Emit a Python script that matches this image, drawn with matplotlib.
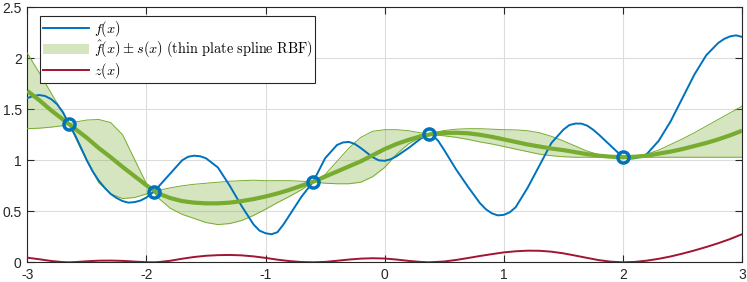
import matplotlib
matplotlib.use("Agg")
import matplotlib.pyplot as plt
from matplotlib.patches import Patch
from matplotlib.lines import Line2D

# values
f_x = [-3.0, -2.95, -2.9, -2.85, -2.8, -2.75, -2.7, -2.65, -2.6, -2.5, -2.45, -2.4, -2.35,
       -2.3, -2.25, -2.2, -2.15, -2.1, -2.05, -2.0, -1.94,
       -1.9, -1.8, -1.7, -1.65, -1.6, -1.55, -1.5, -1.4, -1.3, -1.2, -1.1, -1.05, -1.0, -0.95,
       -0.9, -0.85, -0.8, -0.7, -0.6, -0.5, -0.4, -0.35, -0.3, -0.25, -0.2, -0.1, -0.05, 0.0,
       0.05, 0.1, 0.2, 0.3, 0.37, 0.4, 0.45, 0.5, 0.6, 0.7, 0.8, 0.85, 0.9, 0.95, 1.0, 1.05,
       1.1, 1.2, 1.3, 1.4, 1.5, 1.55, 1.6, 1.65, 1.7, 1.75, 1.8, 1.9, 2.0, 2.05, 2.1, 2.15,
       2.2, 2.3, 2.4, 2.5, 2.6, 2.7, 2.8, 2.85, 2.9, 2.95, 3.0]
f_y = [1.61, 1.63, 1.64, 1.63, 1.60, 1.55, 1.47, 1.355, 1.25, 1.00, 0.89, 0.80, 0.73,
       0.67, 0.63, 0.60, 0.585, 0.59, 0.605, 0.635, 0.69,
       0.74, 0.87, 1.00, 1.035, 1.045, 1.04, 1.02, 0.93, 0.75, 0.55, 0.37, 0.31, 0.285, 0.275,
       0.295, 0.37, 0.46, 0.64, 0.79, 1.02, 1.15, 1.175, 1.18, 1.16, 1.12, 1.03, 1.0, 0.995,
       1.01, 1.04, 1.12, 1.21, 1.255, 1.25, 1.19, 1.10, 0.91, 0.74, 0.58, 0.52, 0.48, 0.46, 0.465, 0.49,
       0.54, 0.73, 0.95, 1.17, 1.30, 1.345, 1.36, 1.36, 1.34, 1.30, 1.25, 1.14, 1.03, 1.015, 1.02, 1.035,
       1.06, 1.19, 1.38, 1.61, 1.84, 2.03, 2.15, 2.19, 2.215, 2.225, 2.21]

fhat_x = [-3.0, -2.9, -2.8, -2.7, -2.6, -2.5, -2.4, -2.3, -2.2, -2.1, -2.0, -1.9, -1.8,
          -1.7, -1.6, -1.5, -1.4, -1.3, -1.2, -1.1, -1.0, -0.9, -0.8, -0.7, -0.6, -0.5,
          -0.4, -0.3, -0.2, -0.1, 0.0, 0.1, 0.2, 0.3, 0.4, 0.5, 0.6, 0.7, 0.8, 0.9, 1.0,
          1.1, 1.2, 1.3, 1.4, 1.5, 1.6, 1.7, 1.8, 1.9, 2.0, 2.1, 2.2, 2.3, 2.4, 2.5, 2.6,
          2.7, 2.8, 2.9, 3.0]
fhat_y = [1.68, 1.59, 1.49, 1.40, 1.31, 1.22, 1.12, 1.03, 0.935, 0.845, 0.755, 0.675, 0.63,
          0.60, 0.585, 0.578, 0.578, 0.585, 0.60, 0.62, 0.645, 0.675, 0.71, 0.75, 0.79, 0.84,
          0.89, 0.94, 0.99, 1.05, 1.11, 1.16, 1.20, 1.235, 1.258, 1.268, 1.27, 1.265, 1.25, 1.23, 1.205,
          1.18, 1.155, 1.135, 1.115, 1.10, 1.08, 1.06, 1.045, 1.035, 1.03, 1.035, 1.045, 1.065, 1.085, 1.11, 1.14,
          1.17, 1.205, 1.245, 1.29]

band_x = [-3.0, -2.9, -2.8, -2.7, -2.65, -2.6, -2.5, -2.4, -2.3, -2.2, -2.1, -2.0, -1.94,
          -1.9, -1.8, -1.7, -1.6, -1.5, -1.4, -1.3, -1.2, -1.1, -1.0, -0.9, -0.8, -0.7,
          -0.6, -0.5, -0.4, -0.3, -0.2, -0.1, 0.0, 0.1, 0.2, 0.3, 0.37, 0.4, 0.5, 0.6,
          0.7, 0.8, 0.9, 1.0, 1.1, 1.2, 1.3, 1.4, 1.5, 1.6, 1.7, 1.8, 1.9, 2.0, 2.1, 2.2,
          2.3, 2.4, 2.5, 2.6, 2.7, 2.8, 2.9, 3.0]
band_upper = [2.05, 1.86, 1.66, 1.46, 1.355, 1.375, 1.395, 1.40, 1.37, 1.25, 1.01, 0.77, 0.69,
              0.705, 0.73, 0.75, 0.765, 0.775, 0.785, 0.795, 0.80, 0.805, 0.80, 0.80, 0.80, 0.795,
              0.79, 0.86, 0.99, 1.12, 1.225, 1.285, 1.30, 1.30, 1.29, 1.27, 1.255, 1.268, 1.292, 1.305,
              1.31, 1.31, 1.305, 1.30, 1.298, 1.29, 1.27, 1.235, 1.19, 1.14, 1.09, 1.055, 1.04, 1.03, 1.04, 1.06,
              1.10, 1.155, 1.21, 1.27, 1.335, 1.40, 1.465, 1.53]
band_lower = [1.31, 1.315, 1.325, 1.34, 1.355, 1.23, 0.99, 0.78, 0.67, 0.625, 0.635, 0.67, 0.69,
              0.63, 0.53, 0.47, 0.43, 0.39, 0.37, 0.38, 0.41, 0.46, 0.52, 0.585, 0.645, 0.71,
              0.79, 0.775, 0.77, 0.77, 0.785, 0.84, 0.93, 1.06, 1.16, 1.225, 1.255, 1.25, 1.24, 1.225,
              1.205, 1.18, 1.16, 1.135, 1.11, 1.085, 1.06, 1.045, 1.035, 1.03, 1.03, 1.03, 1.03, 1.03, 1.03, 1.03,
              1.03, 1.03, 1.03, 1.03, 1.03, 1.03, 1.03, 1.03]

z_x = [-3.0, -2.9, -2.8, -2.7, -2.65, -2.6, -2.5, -2.4, -2.3, -2.2, -2.1, -2.0, -1.94,
       -1.9, -1.8, -1.7, -1.6, -1.5, -1.4, -1.3, -1.2, -1.1, -1.0, -0.9, -0.8, -0.7,
       -0.6, -0.5, -0.4, -0.3, -0.2, -0.1, 0.0, 0.1, 0.2, 0.3, 0.37, 0.5, 0.6, 0.7,
       0.8, 0.9, 1.0, 1.1, 1.2, 1.3, 1.4, 1.5, 1.6, 1.7, 1.8, 1.9, 2.0, 2.1, 2.2, 2.3,
       2.4, 2.5, 2.6, 2.7, 2.8, 2.9, 3.0]
z_y = [0.045, 0.03, 0.013, 0.002, 0.0, 0.002, 0.01, 0.016, 0.017, 0.014, 0.007, 0.001, 0.0,
       0.002, 0.015, 0.035, 0.052, 0.064, 0.07, 0.072, 0.068, 0.058, 0.043, 0.026, 0.012, 0.003,
       0.0, 0.004, 0.015, 0.027, 0.036, 0.04, 0.037, 0.027, 0.014, 0.004, 0.0, 0.008, 0.023, 0.042,
       0.062, 0.08, 0.097, 0.108, 0.114, 0.113, 0.104, 0.088, 0.066, 0.043, 0.021, 0.006, 0.0, 0.004, 0.016, 0.034,
       0.057, 0.085, 0.116, 0.15, 0.187, 0.228, 0.275]

data_x = [-2.65, -1.94, -0.6, 0.37, 2.0]
data_y = [1.355, 0.69, 0.79, 1.255, 1.03]

x_ticks = [-3, -2, -1, 0, 1, 2, 3]
y_ticks = [0, 0.5, 1, 1.5, 2, 2.5]
y_ticklabels = ["0", "0.5", "1", "1.5", "2", "2.5"]

blue = "#0072BD"
green = "#77AC30"
red = "#A2142F"
axis_color = "#262626"

plt.rcParams["font.family"] = ["Liberation Sans", "DejaVu Sans"]
plt.rcParams["font.size"] = 10
plt.rcParams["mathtext.fontset"] = "cm"
plt.rcParams["axes.unicode_minus"] = False
plt.rcParams["lines.solid_joinstyle"] = "round"

fig = plt.figure(figsize=(7.47, 2.82), dpi=100)
ax = fig.add_axes([27.3 / 747, 1 - 262.3 / 282, 714.7 / 747, 255 / 282])

ax.fill_between(band_x, band_lower, band_upper, color=green, alpha=0.3, linewidth=0, zorder=2)
ax.plot(band_x, band_upper, color=green, linewidth=0.7, zorder=3)
ax.plot(band_x, band_lower, color=green, linewidth=0.7, zorder=3)
ax.plot(f_x, f_y, color=blue, linewidth=1.4, zorder=4)
ax.plot(fhat_x, fhat_y, color=green, linewidth=3, zorder=5, solid_capstyle="butt")
ax.plot(data_x, data_y, "o", markersize=8, markerfacecolor="none",
        markeredgecolor=blue, markeredgewidth=2.5, zorder=6)
ax.plot(z_x, z_y, color=red, linewidth=1.4, zorder=4)

ax.set_xlim(-3, 3)
ax.set_ylim(0, 2.5)
ax.set_xticks(x_ticks)
ax.set_yticks(y_ticks)
ax.set_yticklabels(y_ticklabels)
ax.tick_params(direction="in", length=5, width=0.8, colors=axis_color,
               top=True, right=True, labelsize=10, pad=4)
for spine in ax.spines.values():
    spine.set_color(axis_color)
    spine.set_linewidth(0.8)
ax.grid(color="#dcdcdc", linewidth=0.8)
ax.set_axisbelow(True)

handles = [
    Line2D([], [], color=blue, linewidth=1.4),
    Patch(facecolor=green, alpha=0.3, edgecolor="none"),
    Line2D([], [], color=red, linewidth=1.4),
]
labels = [
    r"$f(x)$",
    r"$\hat{f}(x) \pm s(x)$ $\mathrm{(thin\ plate\ spline\ RBF)}$",
    r"$z(x)$",
]
leg = ax.legend(handles, labels, loc="upper left", bbox_to_anchor=(0.0178, 0.966),
                borderaxespad=0, fancybox=False, framealpha=1, edgecolor=axis_color,
                fontsize=10.3, handlelength=3.2, handletextpad=0.35, labelspacing=0.02,
                borderpad=0.2)
leg.get_frame().set_linewidth(0.8)
leg.set_zorder(10)

plt.savefig("out.png", dpi=100)
